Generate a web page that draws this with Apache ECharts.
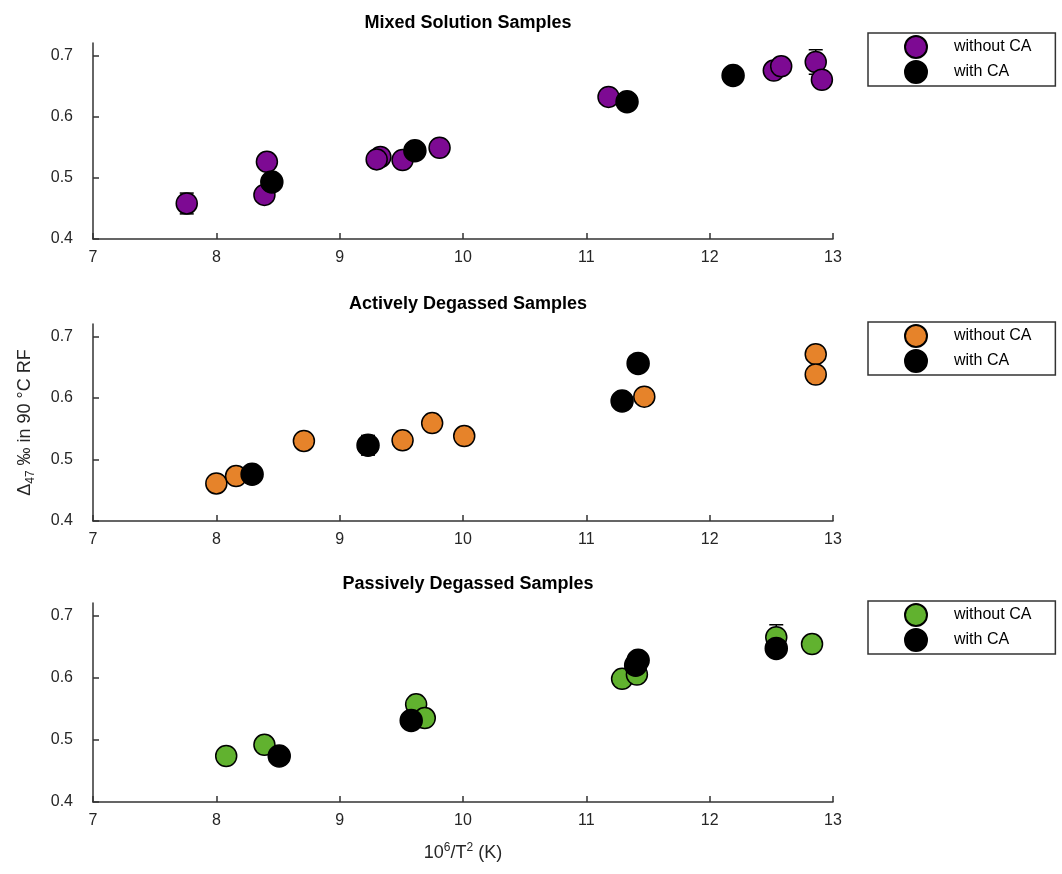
<!DOCTYPE html>
<html>
<head>
<meta charset="utf-8">
<title>Clumped isotope samples</title>
<script src="https://cdn.jsdelivr.net/npm/echarts@6/dist/echarts.min.js"></script>
<style>
  html, body { margin: 0; padding: 0; background: #fff; }
  #main { width: 1062px; height: 874px; }
</style>
</head>
<body>
<div id="main"></div>
<script>
// panel titles and legend labels
var panelTitles = ['Mixed Solution Samples', 'Actively Degassed Samples', 'Passively Degassed Samples'];
var legendLabels = ['without CA', 'with CA'];
var xTicks = [7, 8, 9, 10, 11, 12, 13];
var yTicks = [0.4, 0.5, 0.6, 0.7];

// Mixed solution: [x, y, err]
var mixedWithout = [
  [7.76, 0.458, 0.017], [8.41, 0.526, 0.008], [8.39, 0.472, 0.012],
  [9.33, 0.534, 0.008], [9.30, 0.530, 0.006], [9.51, 0.529, 0.006],
  [9.81, 0.549, 0.011], [11.18, 0.632, 0.005], [12.52, 0.675, 0.006],
  [12.58, 0.682, 0.008], [12.86, 0.689, 0.020], [12.91, 0.660, 0.012]
];
var mixedWith = [
  [8.45, 0.493, 0.008], [9.61, 0.544, 0.008], [11.33, 0.624, 0.005],
  [12.19, 0.667, 0.005]
];

// Actively degassed
var activeWithout = [
  [8.00, 0.461, 0.008], [8.16, 0.473, 0.010], [8.71, 0.530, 0.007],
  [9.51, 0.531, 0.005], [9.75, 0.559, 0.005], [10.01, 0.538, 0.005],
  [11.47, 0.602, 0.005], [12.86, 0.671, 0.005], [12.86, 0.638, 0.005]
];
var activeWith = [
  [8.29, 0.476, 0.008], [9.23, 0.523, 0.016], [11.29, 0.595, 0.005],
  [11.42, 0.656, 0.005]
];

// Passively degassed
var passiveWithout = [
  [8.08, 0.474, 0.005], [8.39, 0.492, 0.005], [9.62, 0.557, 0.009],
  [9.69, 0.535, 0.012], [11.29, 0.598, 0.005], [11.41, 0.605, 0.010],
  [12.54, 0.665, 0.020], [12.83, 0.654, 0.005]
];
var passiveWith = [
  [8.51, 0.474, 0.006], [9.58, 0.531, 0.006], [11.40, 0.620, 0.006],
  [11.42, 0.628, 0.006], [12.54, 0.647, 0.006]
];

var colors = ['#7d0a93', '#e6832a', '#61b22f'];
var panels = [
  { without: mixedWithout, withCA: mixedWith, top: 43, height: 196, legendTop: 33, titleTop: 9 },
  { without: activeWithout, withCA: activeWith, top: 324, height: 197, legendTop: 322, titleTop: 290 },
  { without: passiveWithout, withCA: passiveWith, top: 603, height: 199, legendTop: 601, titleTop: 570 }
];

var axisColor = '#333';
var font = 'Liberation Sans, Arial, Helvetica, sans-serif';

function errBar(params, api) {
  var x = api.value(0), y = api.value(1), e = api.value(2);
  var top = api.coord([x, y + e]);
  var bot = api.coord([x, y - e]);
  var w = 7;
  var st = { stroke: '#000', lineWidth: 1.5 };
  return {
    type: 'group',
    children: [
      { type: 'line', shape: { x1: top[0], y1: top[1], x2: bot[0], y2: bot[1] }, style: st },
      { type: 'line', shape: { x1: top[0] - w, y1: top[1], x2: top[0] + w, y2: top[1] }, style: st },
      { type: 'line', shape: { x1: bot[0] - w, y1: bot[1], x2: bot[0] + w, y2: bot[1] }, style: st }
    ]
  };
}

var grids = [], xAxes = [], yAxes = [], series = [], titles = [], legends = [];

panels.forEach(function (p, i) {
  grids.push({ left: 93, right: 229, top: p.top, height: p.height });
  titles.push({
    text: panelTitles[i], left: 463, top: p.titleTop, textAlign: 'center',
    textStyle: { fontFamily: font, fontSize: 18, fontWeight: 'bold', color: '#000' }
  });
  xAxes.push({
    gridIndex: i, type: 'value', min: xTicks[0], max: xTicks[xTicks.length - 1], interval: 1,
    axisLine: { lineStyle: { color: axisColor, width: 1.5 } },
    axisTick: { inside: true, length: 6, lineStyle: { color: axisColor, width: 1.5 } },
    axisLabel: { color: '#262626', fontFamily: font, fontSize: 16, margin: 11 },
    splitLine: { show: false },
    name: i === 2 ? '{a|10}{s|6}{a|/T}{s|2}{a| (K)}' : '',
    nameLocation: 'middle', nameGap: 40,
    nameTextStyle: {
      color: '#262626', fontFamily: font, fontSize: 18,
      rich: {
        a: { fontSize: 18, fontFamily: font, color: '#262626' },
        s: { fontSize: 12, fontFamily: font, color: '#262626', padding: [0, 0, 10, 0] }
      }
    }
  });
  yAxes.push({
    gridIndex: i, type: 'value', min: 0.4, max: 0.72,
    axisLine: { show: true, lineStyle: { color: axisColor, width: 1.5 } },
    axisTick: { show: true, inside: true, length: 6, customValues: yTicks, lineStyle: { color: axisColor, width: 1.5 } },
    axisLabel: { color: '#262626', fontFamily: font, fontSize: 16, margin: 20, customValues: yTicks,
      formatter: function (v) { return v.toFixed(1); } },
    splitLine: { show: false },
    name: i === 1 ? '{d|\u0394}{s|47}{d| \u2030 in 90 \u00b0C RF}' : '',
    nameLocation: 'middle', nameGap: 56, nameRotate: 90,
    nameTextStyle: {
      color: '#262626', fontFamily: font, fontSize: 18,
      rich: {
        d: { fontSize: 18, fontFamily: font, color: '#262626' },
        s: { fontSize: 12, fontFamily: font, color: '#262626', padding: [12, 0, 0, 0] }
      }
    }
  });
  var nameA = 'p' + i + 'a', nameB = 'p' + i + 'b';
  series.push({
    type: 'custom', xAxisIndex: i, yAxisIndex: i, renderItem: errBar, z: 1,
    data: p.without.concat(p.withCA), encode: { x: 0, y: 1 }, silent: true
  });
  series.push({
    name: nameA, type: 'scatter', xAxisIndex: i, yAxisIndex: i, z: 2,
    symbol: 'circle', symbolSize: 21,
    itemStyle: { color: colors[i], borderColor: '#000', borderWidth: 1.5, opacity: 1 },
    data: p.without.map(function (d) { return [d[0], d[1]]; })
  });
  series.push({
    name: nameB, type: 'scatter', xAxisIndex: i, yAxisIndex: i, z: 3,
    symbol: 'circle', symbolSize: 22,
    itemStyle: { color: '#000', borderColor: '#000', borderWidth: 1.5, opacity: 1 },
    data: p.withCA.map(function (d) { return [d[0], d[1]]; })
  });
  legends.push({
    data: [nameA, nameB], orient: 'vertical', left: 868, top: p.legendTop,
    padding: [2, 24, 2, 36], itemGap: 1, itemWidth: 22, itemHeight: 22,
    borderColor: '#333', borderWidth: 1.5, backgroundColor: '#fff',
    textStyle: { color: '#000', fontFamily: font, fontSize: 16, padding: [0, 0, 0, 22] },
    formatter: function (n) { return n.slice(-1) === 'a' ? legendLabels[0] : legendLabels[1]; },
    selectedMode: false
  });
});

var chart = echarts.init(document.getElementById('main'));
chart.setOption({
  animation: false,
  backgroundColor: '#fff',
  title: titles,
  legend: legends,
  grid: grids,
  xAxis: xAxes,
  yAxis: yAxes,
  series: series
});
</script>
</body>
</html>
